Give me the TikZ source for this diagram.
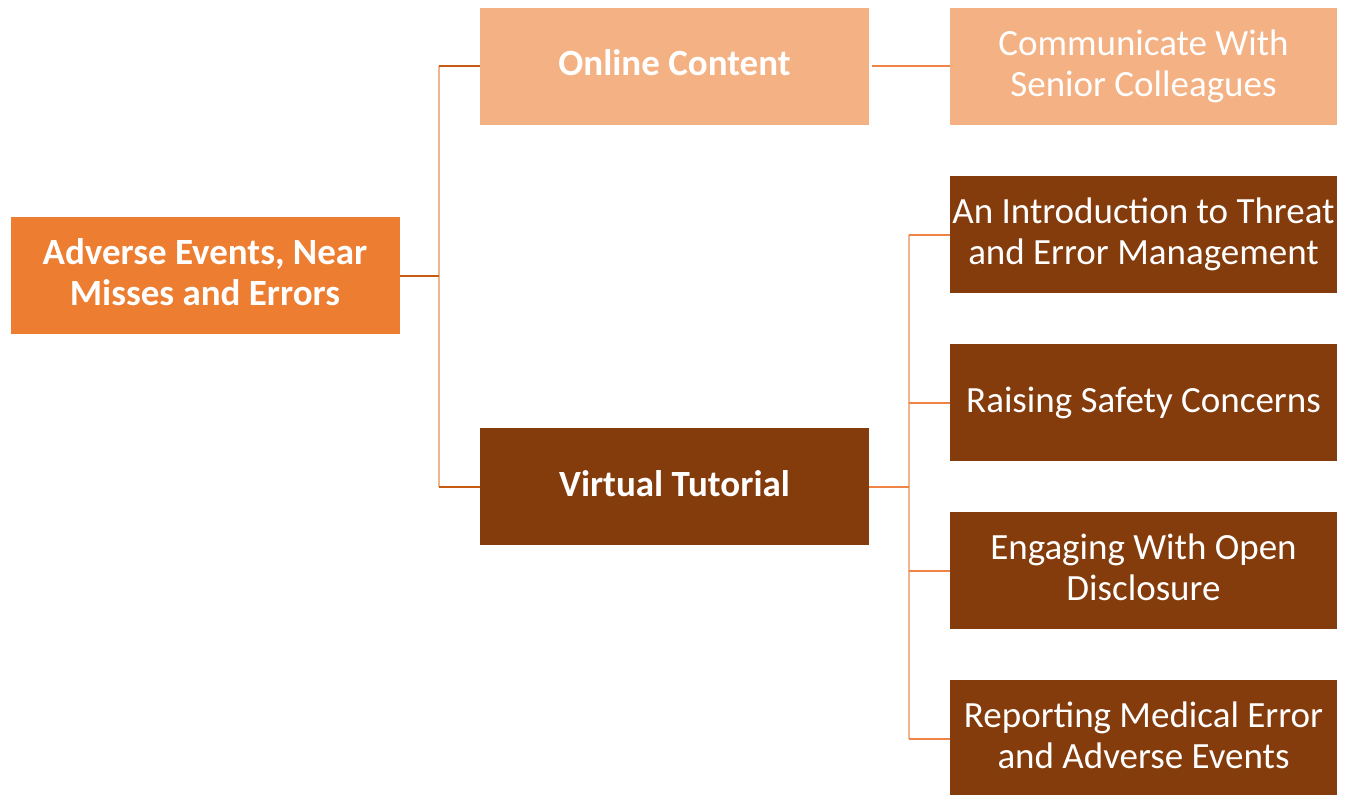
\documentclass[tikz,border=0pt]{standalone}
\usepackage{fontspec}
\setmainfont{Carlito}
\definecolor{rootc}{HTML}{ED7D31}
\definecolor{lightc}{HTML}{F4B183}
\definecolor{darkc}{HTML}{843C0C}
\definecolor{hlinec}{HTML}{C55A11}
\definecolor{hlinec2}{HTML}{EE8446}
\definecolor{vlinec}{HTML}{EFB58E}
\tikzset{
  box/.style={rectangle, minimum width=389pt, minimum height=117pt, inner sep=0pt, align=center, text=white, text depth=6pt, font=\fontsize{37}{41}\selectfont},
  rootbox/.style={box, fill=rootc, font=\fontsize{37}{41}\selectfont\bfseries},
  midlight/.style={box, fill=lightc, font=\fontsize{37}{41}\selectfont\bfseries},
  middark/.style={box, fill=darkc, font=\fontsize{37}{41}\selectfont\bfseries},
  leaflight/.style={box, minimum width=387pt, fill=lightc},
  leafdark/.style={box, minimum width=387pt, fill=darkc},
  hline/.style={draw=hlinec, line width=2pt},
  hline2/.style={draw=hlinec2, line width=2pt},
  vline/.style={draw=vlinec, line width=2.4pt},
}
\begin{document}
\begin{tikzpicture}[x=1pt,y=-1pt]
\useasboundingbox (0,0) rectangle (1347,795);
\node[rootbox] (root) at (205,275.5) {Adverse Events, Near\\Misses and Errors};
\node[midlight] (online) at (674.5,66) {Online Content};
\node[middark] (virtual) at (674.5,486.5) {Virtual Tutorial};
\node[leaflight] (comm) at (1143.5,66) {Communicate With\\Senior Colleagues};
\node[leafdark] (intro) at (1143.5,234.5) {An Introduction to Threat\\and Error Management};
\node[leafdark] (raise) at (1143.5,402.5) {Raising Safety Concerns};
\node[leafdark] (engage) at (1143.5,570.5) {Engaging With Open\\Disclosure};
\node[leafdark] (report) at (1143.5,738.5) {Reporting Medical Error\\and Adverse Events};
\coordinate (jL) at (439,275.5);
\coordinate (jR) at (909,486.5);
% left tree
\draw[vline] (jL |- online.west) -- (jL |- virtual.west);
\draw[hline] (root.east) -- (jL);
\draw[hline] (jL |- online.west) -- (online.west);
\draw[hline] (jL |- virtual.west) -- (virtual.west);
% online -> communicate
\draw[hline2] (online.east) ++(3,0) -- (comm.west);
% right tree
\draw[vline] (jR |- intro.west) -- (jR |- report.west);
\draw[hline2] (virtual.east) -- (jR);
\draw[hline2] (jR |- intro.west) -- (intro.west);
\draw[hline2] (jR |- raise.west) -- (raise.west);
\draw[hline2] (jR |- engage.west) -- (engage.west);
\draw[hline2] (jR |- report.west) -- (report.west);
\end{tikzpicture}
\end{document}
